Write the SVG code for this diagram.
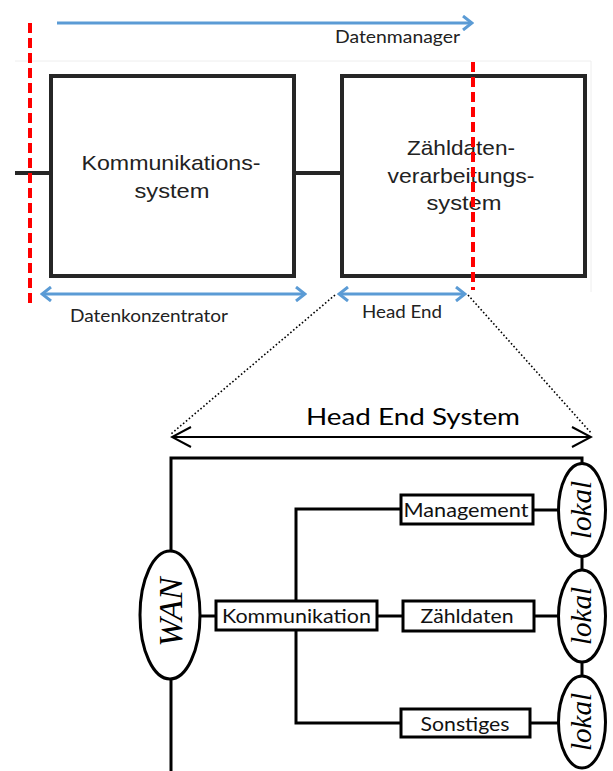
<svg xmlns="http://www.w3.org/2000/svg" width="613" height="771" viewBox="0 0 613 771">
  <defs>
    <style>
      .sysbox { fill: #ffffff; stroke: #262626; stroke-width: 4; }
      .bus { fill: none; stroke: #262626; stroke-width: 4; }
      .cut { fill: none; stroke: #ff0000; stroke-width: 4; stroke-dasharray: 10 5; }
      .span { fill: none; stroke: #5b9bd5; stroke-width: 3; }
      .zoomline { fill: none; stroke: #000000; stroke-width: 1.6; stroke-dasharray: 1.6 2.2; }
      .wire { fill: none; stroke: #000000; stroke-width: 3; }
      .mod { fill: #ffffff; stroke: #000000; stroke-width: 3; }
      .net { fill: #ffffff; stroke: #000000; stroke-width: 3; }
      .sans { font-family: "Liberation Sans", Arial, sans-serif; fill: #222222; font-size: 21px; text-anchor: middle; }
      .lbl { font-family: Lato, "Open Sans", sans-serif; fill: #222222; font-size: 18px; }
      .mlbl { font-family: Lato, "Open Sans", sans-serif; fill: #111111; font-size: 19px; text-anchor: middle; }
      .ital { font-family: "Liberation Serif", "Times New Roman", serif; font-style: italic; fill: #000000; text-anchor: middle; }
    </style>
    <marker id="blueHead" viewBox="0 0 12 16" refX="10" refY="8" markerWidth="12" markerHeight="16" markerUnits="userSpaceOnUse" orient="auto-start-reverse">
      <path d="M1,1 L10,8 L1,15" fill="none" stroke="#5b9bd5" stroke-width="3"/>
    </marker>
    <marker id="openHead" viewBox="0 0 22 24" refX="20" refY="12" markerWidth="22" markerHeight="24" markerUnits="userSpaceOnUse" orient="auto-start-reverse">
      <path d="M1,2 L20,12 L1,22" fill="none" stroke="#000000" stroke-width="2"/>
    </marker>
  </defs>

  <rect width="613" height="771" fill="#ffffff"/>

  <!-- faint frame of the upper overview -->
  <polyline points="15,61 591,61 591,292" fill="none" stroke="#eeeeee" stroke-width="1"/>

  <!-- overview connectors -->
  <g id="overview-connectors">
    <line class="bus" x1="15" y1="173" x2="51" y2="173"/>
    <line class="bus" x1="294" y1="173" x2="342" y2="173"/>
  </g>

  <g id="kommunikationssystem">
    <rect class="sysbox" x="51" y="76" width="243" height="200"/>
    <text class="sans" x="171" y="170" textLength="179" lengthAdjust="spacingAndGlyphs">Kommunikations-</text>
    <text class="sans" x="172" y="198" textLength="75" lengthAdjust="spacingAndGlyphs">system</text>
  </g>

  <g id="zaehldatenverarbeitungssystem">
    <rect class="sysbox" x="342" y="76" width="243" height="200"/>
    <text class="sans" x="461" y="155" textLength="108" lengthAdjust="spacingAndGlyphs">Zähldaten-</text>
    <text class="sans" x="461" y="183" textLength="147" lengthAdjust="spacingAndGlyphs">verarbeitungs-</text>
    <text class="sans" x="464" y="210" textLength="75" lengthAdjust="spacingAndGlyphs">system</text>
  </g>

  <!-- boundary markers -->
  <g id="boundaries">
    <line class="cut" x1="30" y1="23" x2="30" y2="303"/>
    <line class="cut" x1="473" y1="62" x2="473" y2="290"/>
  </g>

  <!-- role spans -->
  <g id="spans">
    <line class="span" x1="57" y1="23" x2="472" y2="23" marker-end="url(#blueHead)"/>
    <text class="lbl" x="335" y="43" textLength="125" lengthAdjust="spacingAndGlyphs">Datenmanager</text>
    <line class="span" x1="42" y1="294" x2="305" y2="294" marker-start="url(#blueHead)" marker-end="url(#blueHead)"/>
    <text class="lbl" x="70" y="322" textLength="158" lengthAdjust="spacingAndGlyphs">Datenkonzentrator</text>
    <line class="span" x1="339" y1="294" x2="465" y2="294" marker-start="url(#blueHead)" marker-end="url(#blueHead)"/>
    <text class="lbl" x="362" y="318" textLength="80" lengthAdjust="spacingAndGlyphs">Head End</text>
  </g>

  <!-- detail call-out -->
  <g id="callout">
    <line class="zoomline" x1="335" y1="295" x2="171" y2="434"/>
    <line class="zoomline" x1="468" y1="295" x2="592" y2="434"/>
    <line x1="172" y1="437" x2="591" y2="437" stroke="#000000" stroke-width="2" marker-start="url(#openHead)" marker-end="url(#openHead)"/>
    <text class="lbl" x="306" y="425" font-size="24" fill="#000000" style="font-size:24px;fill:#000000" textLength="214" lengthAdjust="spacingAndGlyphs">Head End System</text>
  </g>

  <!-- head end internals: connectors -->
  <g id="connectors">
    <polyline class="wire" points="171,551 171,458 582,458 582,464"/>
    <line class="wire" x1="171" y1="679" x2="171" y2="771"/>
    <line class="wire" x1="200" y1="616" x2="216" y2="616"/>
    <polyline class="wire" points="401,509 296,509 296,723 401,723"/>
    <line class="wire" x1="377" y1="616" x2="403" y2="616"/>
    <line class="wire" x1="533" y1="510" x2="559" y2="510"/>
    <line class="wire" x1="534" y1="616" x2="559" y2="616"/>
    <line class="wire" x1="530" y1="723" x2="559" y2="723"/>
    <line class="wire" x1="582" y1="556" x2="582" y2="570"/>
    <line class="wire" x1="582" y1="662" x2="582" y2="676"/>
  </g>

  <g id="wan">
    <ellipse class="net" cx="170" cy="615" rx="30" ry="64"/>
    <text class="ital" transform="translate(182,612) rotate(-90)" font-size="34">WAN</text>
  </g>

  <g id="kommunikation">
    <rect class="mod" x="216" y="601" width="161" height="29"/>
    <text class="mlbl" x="296.5" y="623" textLength="149" lengthAdjust="spacingAndGlyphs">Kommunikation</text>
  </g>

  <g id="management">
    <rect class="mod" x="401" y="495" width="132" height="29"/>
    <text class="mlbl" x="466" y="517" textLength="125" lengthAdjust="spacingAndGlyphs">Management</text>
  </g>

  <g id="zaehldaten">
    <rect class="mod" x="403" y="601" width="131" height="30"/>
    <text class="mlbl" x="467" y="623" textLength="93" lengthAdjust="spacingAndGlyphs">Zähldaten</text>
  </g>

  <g id="sonstiges">
    <rect class="mod" x="401" y="709" width="129" height="28"/>
    <text class="mlbl" x="465" y="731" textLength="89" lengthAdjust="spacingAndGlyphs">Sonstiges</text>
  </g>

  <g id="lokal-1">
    <ellipse class="net" cx="582" cy="510" rx="23.5" ry="46.5"/>
    <text class="ital" transform="translate(591,510) rotate(-90)" font-size="29">lokal</text>
  </g>

  <g id="lokal-2">
    <ellipse class="net" cx="582" cy="616" rx="23.5" ry="46"/>
    <text class="ital" transform="translate(591,616) rotate(-90)" font-size="29">lokal</text>
  </g>

  <g id="lokal-3">
    <ellipse class="net" cx="582" cy="722" rx="23.5" ry="46"/>
    <text class="ital" transform="translate(591,722) rotate(-90)" font-size="29">lokal</text>
  </g>
</svg>
